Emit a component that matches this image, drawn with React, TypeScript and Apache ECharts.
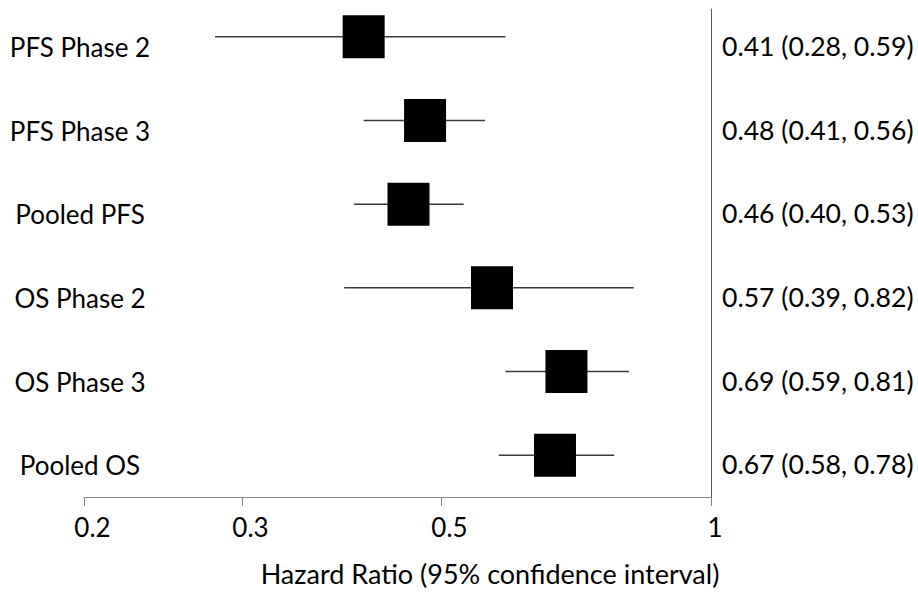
import React, { useEffect, useRef } from 'react';
import * as echarts from 'echarts';

// ---- data ----
const categories = ['PFS Phase 2', 'PFS Phase 3', 'Pooled PFS', 'OS Phase 2', 'OS Phase 3', 'Pooled OS'];
const hazardRatio = [0.41, 0.48, 0.46, 0.57, 0.69, 0.67];
const ciLow = [0.28, 0.41, 0.40, 0.39, 0.59, 0.58];
const ciHigh = [0.59, 0.56, 0.53, 0.82, 0.81, 0.78];
const rowPos = [6, 5, 4, 3, 2, 1];
const tickValues = [0.2, 0.3, 0.5, 1];
const axisTitle = 'Hazard Ratio (95% confidence interval)';

const FONT = 'Lato';
const L = (v: number) => Math.log10(v);

export default function App() {
  const ref = useRef<HTMLDivElement>(null);

  useEffect(() => {
    if (!ref.current) return;
    const chart = echarts.init(ref.current, null, { renderer: 'svg' });
    const tickLogs = tickValues.map(L);

    const option: any = {
      animation: false,
      backgroundColor: '#ffffff',
      grid: { left: 84, right: 207, top: 9, bottom: 94 },
      xAxis: {
        type: 'value',
        min: L(0.2),
        max: 0,
        axisLine: { show: true, onZero: false, lineStyle: { color: '#868686', width: 1 } },
        axisTick: {
          show: true,
          length: 9,
          customValues: tickLogs,
          lineStyle: { color: '#868686', width: 1 },
        },
        axisLabel: {
          show: true,
          customValues: tickLogs,
          margin: 17,
          formatter: (v: number) => {
            const raw = Math.round(Math.pow(10, v) * 100) / 100;
            return raw === 1 ? '{i|1}' : '{d|' + String(raw) + '}';
          },
          rich: {
            d: { fontFamily: FONT, fontSize: 26, color: '#000', padding: [0, 0, 0, 17] },
            i: { fontFamily: FONT, fontSize: 26, color: '#000', padding: [0, 0, 0, 8] },
          },
        },
        splitLine: { show: false },
        name: axisTitle,
        nameLocation: 'middle',
        nameGap: 63,
        nameTextStyle: { fontFamily: FONT, fontSize: 27, color: '#000', padding: [0, 0, 0, 185] },
      },
      yAxis: {
        type: 'value',
        min: 0.5,
        max: 6.333,
        position: 'right',
        axisLine: { show: true, lineStyle: { color: '#595959', width: 1 } },
        axisTick: { show: false },
        axisLabel: { show: false },
        splitLine: { show: false },
      },
      series: [
        {
          type: 'custom',
          name: 'ci',
          silent: true,
          clip: false,
          z: 2,
          data: categories.map((_, i) => [L(ciLow[i]), L(ciHigh[i]), rowPos[i]]),
          renderItem: (params: any, api: any) => {
            const y = api.value(2);
            const p1 = api.coord([api.value(0), y]);
            const p2 = api.coord([api.value(1), y]);
            return {
              type: 'line',
              shape: { x1: p1[0], y1: p1[1], x2: p2[0], y2: p2[1] },
              style: { stroke: '#3a3a3a', lineWidth: 1.5 },
            };
          },
        },
        {
          type: 'scatter',
          name: 'hr',
          silent: true,
          z: 3,
          symbol: 'rect',
          symbolSize: [42, 43],
          itemStyle: { color: '#000000', opacity: 1 },
          data: hazardRatio.map((v, i) => [L(v), rowPos[i]]),
        },
        {
          type: 'custom',
          name: 'rowLabels',
          silent: true,
          clip: false,
          z: 4,
          data: categories.map((_, i) => [L(0.2), rowPos[i]]),
          renderItem: (params: any, api: any) => {
            const p = api.coord([api.value(0), api.value(1)]);
            return {
              type: 'text',
              x: p[0] - 4,
              y: p[1] + 10,
              style: {
                text: categories[params.dataIndex],
                font: '26px ' + FONT,
                fill: '#000',
                align: 'center',
                verticalAlign: 'middle',
              },
            };
          },
        },
        {
          type: 'custom',
          name: 'hrLabels',
          silent: true,
          clip: false,
          z: 4,
          data: categories.map((_, i) => [0, rowPos[i]]),
          renderItem: (params: any, api: any) => {
            const i = params.dataIndex;
            const p = api.coord([api.value(0), api.value(1)]);
            return {
              type: 'text',
              x: p[0] + 11,
              y: p[1] + 9,
              style: {
                text: `${hazardRatio[i].toFixed(2)} (${ciLow[i].toFixed(2)}, ${ciHigh[i].toFixed(2)})`,
                font: '26.6px ' + FONT,
                fill: '#000',
                align: 'left',
                verticalAlign: 'middle',
              },
            };
          },
        },
      ],
    };

    chart.setOption(option);
    return () => {
      chart.dispose();
    };
  }, []);

  return (
    <div
      ref={ref}
      style={{ position: 'fixed', left: 0, top: 0, width: 918, height: 592, background: '#fff' }}
    />
  );
}
